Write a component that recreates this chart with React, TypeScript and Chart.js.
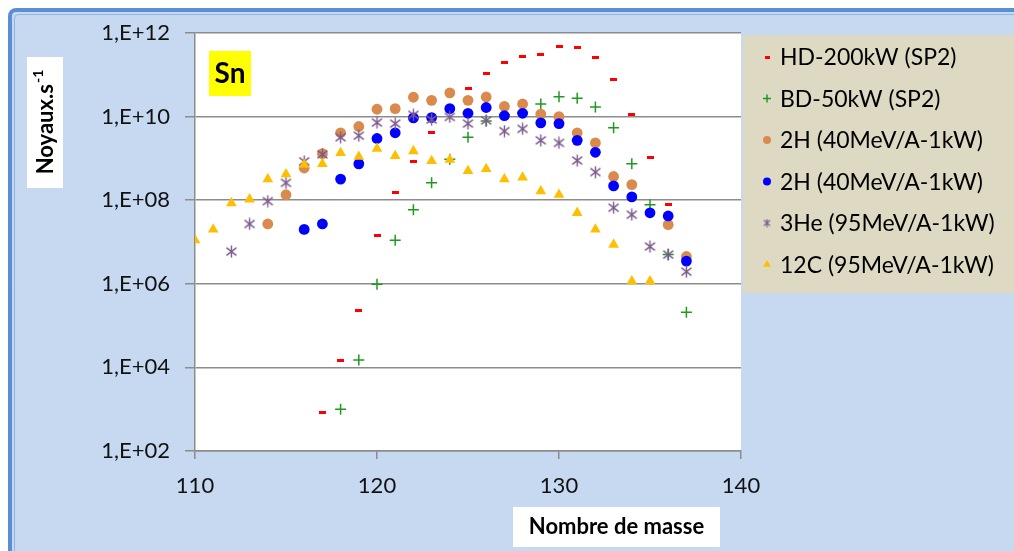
import React, { useEffect, useRef } from 'react';
import { Chart, registerables } from 'chart.js';
import { drawPoint } from 'chart.js/helpers';

Chart.register(...registerables);

// ---- data ----
const masses = [110, 111, 112, 113, 114, 115, 116, 117, 118, 119, 120, 121, 122, 123, 124, 125, 126, 127, 128, 129, 130, 131, 132, 133, 134, 135, 136, 137];

const hd200 = [null, null, null, null, null, null, null, 8.3e2, 1.5e4, 2.3e5, 1.4e7, 1.5e8, 8.5e8, 4.1e9, 1.4e10, 4.6e10, 1.07e11, 1.95e11, 2.75e11, 3.0e11, 4.7e11, 4.4e11, 2.6e11, 7.6e10, 1.1e10, 1.07e9, 7.8e7, null];
const bd50 = [null, null, null, null, null, null, null, null, 1.0e3, 1.5e4, 9.8e5, 1.1e7, 5.9e7, 2.6e8, 9.5e8, 3.2e9, 7.8e9, 1.1e10, 1.25e10, 2.0e10, 3.0e10, 2.75e10, 1.7e10, 5.4e9, 7.4e8, 7.8e7, 5.0e6, 2.1e5];
const h2a = [null, null, null, null, 2.7e7, 1.35e8, 5.9e8, 1.3e9, 4.1e9, 5.8e9, 1.5e10, 1.55e10, 2.9e10, 2.45e10, 3.7e10, 2.45e10, 2.95e10, 1.75e10, 2.0e10, 1.15e10, 1.0e10, 4.1e9, 2.35e9, 3.7e8, 2.35e8, null, 2.6e7, 4.5e6];
const h2b = [null, null, null, null, null, null, 2.0e7, 2.7e7, 3.2e8, 7.4e8, 3.0e9, 4.1e9, 9.3e9, 9.5e9, 1.55e10, 1.2e10, 1.65e10, 1.05e10, 1.2e10, 7.1e9, 6.8e9, 2.7e9, 1.4e9, 2.2e8, 1.2e8, 5.0e7, 4.2e7, 3.5e6];
const he3 = [null, null, 5.9e6, 2.7e7, 9.5e7, 2.6e8, 8.5e8, 1.25e9, 3.2e9, 3.5e9, 7.2e9, 6.8e9, 1.1e10, 8.5e9, 9.8e9, 6.8e9, 8.1e9, 4.5e9, 5.1e9, 2.7e9, 2.35e9, 8.9e8, 4.7e8, 6.6e7, 4.5e7, 7.8e6, 5.0e6, 1.95e6];
const c12 = [1.1e7, 2.0e7, 8.5e7, 1.05e8, 3.2e8, 4.2e8, 7.1e8, 7.4e8, 1.35e9, 1.1e9, 1.7e9, 1.15e9, 1.5e9, 8.7e8, 9.3e8, 5.0e8, 5.6e8, 3.2e8, 3.5e8, 1.65e8, 1.35e8, 5.0e7, 2.0e7, 8.7e6, 1.15e6, 1.15e6, null, null];

const seriesLabels = ['HD-200kW (SP2)', 'BD-50kW (SP2)', '2H (40MeV/A-1kW)', '2H (40MeV/A-1kW)', '3He (95MeV/A-1kW)', '12C (95MeV/A-1kW)'];
const yTickExponents = [2, 4, 6, 8, 10, 12];
const xTicks = [110, 120, 130, 140];
const xTitle = 'Nombre de masse';
const yTitle = 'Noyaux.s';
const yTitleSup = '-1';
const elementLabel = 'Sn';

const FONT = 'Lato, "Open Sans", sans-serif';

function makeDash(color: string, w: number, h: number) {
  const c = document.createElement('canvas');
  c.width = w; c.height = h;
  const g = c.getContext('2d')!;
  g.fillStyle = color;
  g.fillRect(0, 0, w, h);
  return c;
}
function makeAsterisk(color: string, s: number, lw: number) {
  const c = document.createElement('canvas');
  c.width = s; c.height = s;
  const g = c.getContext('2d')!;
  g.strokeStyle = color;
  g.lineWidth = lw;
  g.beginPath();
  const m = s / 2;
  g.moveTo(m, 0.5); g.lineTo(m, s - 0.5);
  g.moveTo(1.5, s * 0.2); g.lineTo(s - 1.5, s * 0.8);
  g.moveTo(s - 1.5, s * 0.2); g.lineTo(1.5, s * 0.8);
  g.stroke();
  return c;
}

const toPoints = (arr: (number | null)[]) =>
  masses.map((x, i) => ({ x, y: arr[i] })).filter((p) => p.y != null);

export default function App() {
  const ref = useRef<HTMLCanvasElement>(null);

  useEffect(() => {
    const canvas = ref.current!;
    const RED = '#ff0000', GREEN = '#1f9a1f', ORANGE = '#d98a4c', BLUE = '#0000ff', PURPLE = '#7b5b8c', GOLD = '#ffbf00';
    const styles = [
      { color: RED, pointStyle: makeDash(RED, 7, 3), legendStyle: makeDash(RED, 5, 3), radius: 4, legendRadius: 3, bw: 0 },
      { color: GREEN, pointStyle: 'cross', legendStyle: 'cross', radius: 5.5, legendRadius: 4, bw: 1.5 },
      { color: ORANGE, pointStyle: 'circle', legendStyle: 'circle', radius: 5.4, legendRadius: 4, bw: 0 },
      { color: BLUE, pointStyle: 'circle', legendStyle: 'circle', radius: 5.4, legendRadius: 4, bw: 0 },
      { color: PURPLE, pointStyle: makeAsterisk(PURPLE, 13, 1.4), legendStyle: makeAsterisk(PURPLE, 9, 1.2), radius: 5, legendRadius: 4, bw: 0 },
      { color: GOLD, pointStyle: 'triangle', legendStyle: 'triangle', radius: 6.2, legendRadius: 4.5, bw: 0 },
    ];
    const allSeries = [hd200, bd50, h2a, h2b, he3, c12];

    const decor = {
      id: 'decor',
      beforeDraw(chart: any) {
        const { ctx, chartArea: a, width, height } = chart;
        ctx.save();
        ctx.fillStyle = '#ffffff';
        ctx.fillRect(0, 0, width, height);
        const rr = (x: number, y: number, w: number, h: number, r: number) => {
          ctx.beginPath();
          ctx.moveTo(x + r, y);
          ctx.lineTo(x + w - r, y);
          ctx.arcTo(x + w, y, x + w, y + r, r);
          ctx.lineTo(x + w, y + h - r);
          ctx.arcTo(x + w, y + h, x + w - r, y + h, r);
          ctx.lineTo(x + r, y + h);
          ctx.arcTo(x, y + h, x, y + h - r, r);
          ctx.lineTo(x, y + r);
          ctx.arcTo(x, y, x + r, y, r);
          ctx.closePath();
        };
        rr(10, 10, width + 30, height + 30, 6);
        ctx.fillStyle = '#c6d9f1';
        ctx.fill();
        ctx.lineWidth = 4;
        ctx.strokeStyle = '#5b8fd3';
        ctx.stroke();
        rr(14.5, 14.5, width + 30, height + 30, 4);
        ctx.lineWidth = 1;
        ctx.strokeStyle = '#8fb4e4';
        ctx.stroke();
        ctx.fillStyle = '#ffffff';
        ctx.fillRect(a.left, a.top, a.right - a.left, a.bottom - a.top);
        ctx.restore();
      },
      afterDraw(chart: any) {
        const { ctx } = chart;
        ctx.save();
        // element label
        ctx.fillStyle = '#ffff00';
        ctx.fillRect(209, 51, 42, 45);
        ctx.fillStyle = '#000';
        ctx.font = `bold 28px ${FONT}`;
        ctx.textAlign = 'center';
        ctx.textBaseline = 'middle';
        ctx.fillText(elementLabel, 230, 74);

        // legend
        ctx.fillStyle = '#ddd9c3';
        ctx.fillRect(743, 35, 271, 258);
        ctx.font = `23px ${FONT}`;
        ctx.textAlign = 'left';
        ctx.textBaseline = 'middle';
        chart.data.datasets.forEach((ds: any, i: number) => {
          const y = 57 + i * 41.5;
          const st = styles[i];
          ctx.fillStyle = st.color;
          ctx.strokeStyle = st.color;
          ctx.lineWidth = st.bw || 1;
          drawPoint(ctx, { pointStyle: st.legendStyle, radius: st.legendRadius, rotation: 0, borderWidth: st.bw }, 767, y);
          ctx.fillStyle = '#000';
          ctx.fillText(ds.label, 780, y + 1);
        });

        // x title
        ctx.fillStyle = '#ffffff';
        ctx.fillRect(513, 507, 207, 40);
        ctx.fillStyle = '#000';
        ctx.font = `bold 22px ${FONT}`;
        ctx.textAlign = 'center';
        ctx.fillText(xTitle, 616.5, 527);

        // y title
        ctx.translate(45, 122.5);
        ctx.rotate(-Math.PI / 2);
        ctx.fillStyle = '#ffffff';
        ctx.fillRect(-65.5, -18, 131, 36);
        ctx.fillStyle = '#000';
        ctx.font = `bold 22px ${FONT}`;
        const w1 = ctx.measureText(yTitle).width;
        ctx.font = `bold 14px ${FONT}`;
        const w2 = ctx.measureText(yTitleSup).width;
        const x0 = -(w1 + w2) / 2;
        ctx.textAlign = 'left';
        ctx.font = `bold 22px ${FONT}`;
        ctx.fillText(yTitle, x0, 1);
        ctx.font = `bold 14px ${FONT}`;
        ctx.fillText(yTitleSup, x0 + w1 + 1, -7);
        ctx.restore();
      },
    };

    const chart = new Chart(canvas, {
      type: 'scatter',
      data: {
        datasets: allSeries.map((arr, i) => ({
          label: seriesLabels[i],
          data: toPoints(arr) as any,
          showLine: false,
          pointStyle: styles[i].pointStyle as any,
          pointRadius: styles[i].radius,
          pointHoverRadius: styles[i].radius,
          backgroundColor: styles[i].color,
          borderColor: styles[i].color,
          pointBorderWidth: styles[i].bw,
          borderWidth: styles[i].bw,
          order: allSeries.length - i,
        })),
      },
      options: {
        animation: false,
        responsive: false,
        maintainAspectRatio: false,
        events: [],
        layout: { padding: { top: 33, right: 273, left: 0, bottom: 0 } },
        plugins: {
          legend: { display: false },
          tooltip: { enabled: false },
          title: { display: false },
        },
        scales: {
          x: {
            type: 'linear',
            min: xTicks[0],
            max: xTicks[xTicks.length - 1],
            afterBuildTicks: (s: any) => { s.ticks = xTicks.map((v) => ({ value: v })); },
            ticks: { font: { family: FONT, size: 22 }, color: '#111', padding: 14, maxRotation: 0 },
            grid: { drawOnChartArea: false, drawTicks: true, tickLength: 8, color: '#8c8c8c', lineWidth: 1.5 },
            border: { display: true, color: '#8c8c8c', width: 1.5 },
            afterFit: (s: any) => { s.height = 100; },
          },
          y: {
            type: 'logarithmic',
            min: 1e2,
            max: 1e12,
            afterBuildTicks: (s: any) => { s.ticks = yTickExponents.map((e) => ({ value: Math.pow(10, e) })); },
            ticks: {
              font: { family: FONT, size: 22 },
              color: '#111',
              padding: 15,
              callback: (v: any) => {
                const e = Math.round(Math.log10(Number(v)));
                return `1,E+${String(e).padStart(2, '0')}`;
              },
            },
            grid: { color: '#8c8c8c', lineWidth: 1.5, tickLength: 10 },
            border: { display: true, color: '#8c8c8c', width: 1.5 },
            afterFit: (s: any) => { s.width = 195; },
          },
        },
      },
      plugins: [decor],
    });
    return () => chart.destroy();
  }, []);

  return (
    <div style={{ position: 'fixed', left: 0, top: 0, width: 1014, height: 551 }}>
      <canvas ref={ref} width={1014} height={551} style={{ display: 'block', width: 1014, height: 551 }} />
    </div>
  );
}
